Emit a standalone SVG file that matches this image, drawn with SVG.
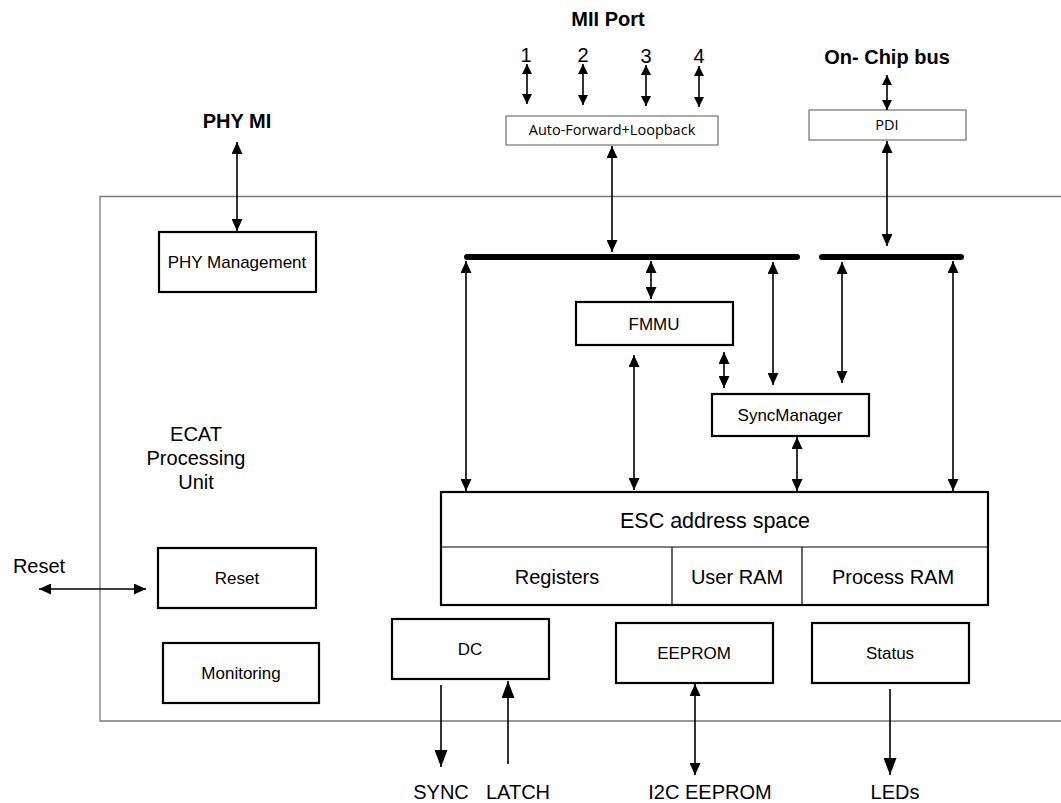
<svg xmlns="http://www.w3.org/2000/svg" width="1061" height="803" viewBox="0 0 1061 803">
  <style>
    .box { fill: #fff; stroke: #000; stroke-width: 2.2; }
    .thin { fill: #fff; stroke: #555; stroke-width: 1; }
    .frame { fill: none; stroke: #7a7a7a; stroke-width: 1.3; }
    .bus { stroke: #000; stroke-width: 6; stroke-linecap: round; }
    .link { stroke: #000; stroke-width: 1.6; fill: none; }
    .both { marker-start: url(#ah); marker-end: url(#ah); }
    .small-both { marker-start: url(#ahs); marker-end: url(#ahs); }
    .one { marker-end: url(#ahl); }
    .div { stroke: #000; stroke-width: 1.2; }
    text { font-family: "Liberation Sans", Arial, sans-serif; fill: #000; text-anchor: middle; }
    .title { font-size: 20px; font-weight: bold; }
    .big { font-size: 20px; }
    .esc { font-size: 21.5px; }
    .lbl { font-size: 17px; }
    .small { font-family: "Open Sans", "Liberation Sans", sans-serif; font-size: 14.5px; }
  </style>
  <defs>
    <marker id="ah" viewBox="0 0 12 11" refX="12" refY="5.5" markerWidth="12" markerHeight="11" markerUnits="userSpaceOnUse" orient="auto-start-reverse">
      <path d="M0,0 L12,5.5 L0,11 z" fill="#000"/>
    </marker>
    <marker id="ahs" viewBox="0 0 10 10" refX="10" refY="5" markerWidth="10" markerHeight="10" markerUnits="userSpaceOnUse" orient="auto-start-reverse">
      <path d="M0,0 L10,5 L0,10 z" fill="#000"/>
    </marker>
    <marker id="ahl" viewBox="0 0 17 13" refX="17" refY="6.5" markerWidth="17" markerHeight="13" markerUnits="userSpaceOnUse" orient="auto-start-reverse">
      <path d="M0,0 L17,6.5 L0,13 z" fill="#000"/>
    </marker>
  </defs>

  <rect width="1061" height="803" fill="#fff"/>

  <!-- ECAT processing unit boundary (open on the right) -->
  <path class="frame" d="M1061,196.5 H100 V721 H1061"/>

  <!-- external labels -->
  <text class="title" x="608" y="26">MII Port</text>
  <text class="title" x="887" y="64">On- Chip bus</text>
  <text class="title" x="237" y="128">PHY MI</text>
  <text class="big" x="526" y="62">1</text>
  <text class="big" x="583" y="62">2</text>
  <text class="big" x="646" y="63">3</text>
  <text class="big" x="699" y="63">4</text>
  <text class="big" x="196" y="441">ECAT</text>
  <text class="big" x="196" y="465">Processing</text>
  <text class="big" x="196" y="489">Unit</text>
  <text class="big" x="39" y="573">Reset</text>
  <text class="big" x="441" y="799">SYNC</text>
  <text class="big" x="518" y="799">LATCH</text>
  <text class="big" x="710" y="799">I2C EEPROM</text>
  <text class="big" x="895" y="799">LEDs</text>

  <!-- nodes -->
  <g id="auto-forward">
    <rect class="thin" x="506" y="116" width="212" height="29"/>
    <text class="small" x="612" y="135">Auto-Forward+Loopback</text>
  </g>
  <g id="pdi">
    <rect class="thin" x="809" y="110" width="157" height="30"/>
    <text class="small" x="887" y="130">PDI</text>
  </g>
  <g id="phy-management">
    <rect class="box" x="159" y="232" width="157" height="60"/>
    <text class="lbl" x="237" y="268">PHY Management</text>
  </g>
  <g id="fmmu">
    <rect class="box" x="576" y="302" width="157" height="43"/>
    <text class="lbl" x="654" y="330">FMMU</text>
  </g>
  <g id="syncmanager">
    <rect class="box" x="712" y="394" width="157" height="42"/>
    <text class="lbl" x="790" y="421">SyncManager</text>
  </g>
  <g id="esc-address-space">
    <rect class="box" x="441" y="492" width="547" height="113"/>
    <line class="div" x1="441" y1="547" x2="988" y2="547"/>
    <line class="div" x1="672" y1="547" x2="672" y2="605"/>
    <line class="div" x1="802" y1="547" x2="802" y2="605"/>
    <text class="esc" x="715" y="528">ESC address space</text>
    <text class="big" x="557" y="584">Registers</text>
    <text class="big" x="737" y="584">User RAM</text>
    <text class="big" x="893" y="584">Process RAM</text>
  </g>
  <g id="reset">
    <rect class="box" x="158" y="548" width="158" height="60"/>
    <text class="lbl" x="237" y="584">Reset</text>
  </g>
  <g id="monitoring">
    <rect class="box" x="163" y="643" width="156" height="60"/>
    <text class="lbl" x="241" y="679">Monitoring</text>
  </g>
  <g id="dc">
    <rect class="box" x="392" y="619" width="157" height="60"/>
    <text class="lbl" x="470" y="655">DC</text>
  </g>
  <g id="eeprom">
    <rect class="box" x="616" y="623" width="157" height="60"/>
    <text class="lbl" x="694" y="659">EEPROM</text>
  </g>
  <g id="status">
    <rect class="box" x="812" y="623" width="157" height="60"/>
    <text class="lbl" x="890" y="659">Status</text>
  </g>

  <!-- internal buses -->
  <g id="buses">
    <line class="bus" x1="467" y1="257" x2="797" y2="257"/>
    <line class="bus" x1="822" y1="257" x2="961" y2="257"/>
  </g>

  <!-- connectors -->
  <g id="connectors">
    <line class="link small-both" x1="527" y1="64" x2="527" y2="104"/>
    <line class="link small-both" x1="583" y1="64" x2="583" y2="105"/>
    <line class="link small-both" x1="646" y1="65" x2="646" y2="106"/>
    <line class="link small-both" x1="699" y1="66" x2="699" y2="107"/>
    <line class="link small-both" x1="887" y1="75" x2="887" y2="110"/>
    <line class="link both" x1="612" y1="146" x2="612" y2="252"/>
    <line class="link both" x1="887" y1="141" x2="887" y2="246"/>
    <line class="link both" x1="237" y1="142" x2="237" y2="231"/>
    <line class="link both" x1="466" y1="261" x2="466" y2="491"/>
    <line class="link both" x1="651" y1="261" x2="651" y2="299"/>
    <line class="link both" x1="773" y1="262" x2="773" y2="385"/>
    <line class="link both" x1="842" y1="262" x2="842" y2="383"/>
    <line class="link both" x1="953" y1="261" x2="953" y2="491"/>
    <line class="link both" x1="724" y1="352" x2="724" y2="388"/>
    <line class="link both" x1="634" y1="355" x2="634" y2="490"/>
    <line class="link both" x1="797" y1="437" x2="797" y2="491"/>
    <line class="link both" x1="39" y1="589" x2="146" y2="589"/>
    <line class="link one" x1="441" y1="685" x2="441" y2="767"/>
    <line class="link one" x1="508" y1="764" x2="508" y2="681"/>
    <line class="link both" x1="695" y1="684" x2="695" y2="775"/>
    <line class="link one" x1="890" y1="689" x2="890" y2="775"/>
  </g>
</svg>
